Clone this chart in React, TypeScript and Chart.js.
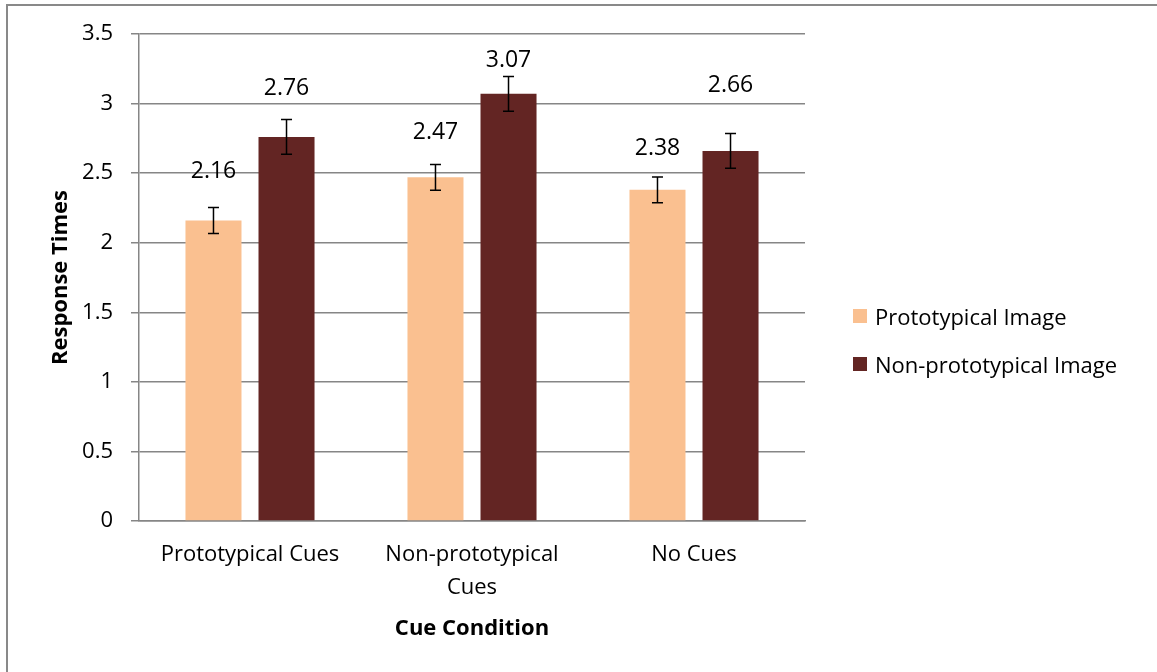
import React, { useEffect, useRef } from "react";
import { Chart, registerables } from "chart.js";

Chart.register(...registerables);

const categories: (string | string[])[] = ["Prototypical Cues", ["Non-prototypical", "Cues"], "No Cues"];
const seriesNames = ["Prototypical Image", "Non-prototypical Image"];
const protoValues = [2.16, 2.47, 2.38];
const nonProtoValues = [2.76, 3.07, 2.66];
const protoErrors = [0.093, 0.093, 0.093];
const nonProtoErrors = [0.125, 0.125, 0.125];
// vertical anchor of each value label, in axis units
const protoLabelAt = [2.51, 2.79, 2.68];
const nonProtoLabelAt = [3.11, 3.31, 3.13];
const yTicks = [0, 0.5, 1, 1.5, 2, 2.5, 3, 3.5];

const colors = ["#FAC090", "#632523"];
const FONT = "'Open Sans', 'Noto Sans', sans-serif";
const FS = 22;

const errorBarPlugin = {
  id: "errorBars",
  afterDatasetsDraw(chart: any) {
    const ctx = chart.ctx;
    const y = chart.scales.y;
    const errs = [protoErrors, nonProtoErrors];
    const vals = [protoValues, nonProtoValues];
    const labs = [protoLabelAt, nonProtoLabelAt];
    ctx.save();
    chart.data.datasets.forEach((_: any, di: number) => {
      const meta = chart.getDatasetMeta(di);
      meta.data.forEach((bar: any, i: number) => {
        const x = bar.x;
        const top = y.getPixelForValue(vals[di][i] + errs[di][i]);
        const bot = y.getPixelForValue(vals[di][i] - errs[di][i]);
        ctx.strokeStyle = "#000";
        ctx.lineWidth = 1.5;
        ctx.beginPath();
        ctx.moveTo(x, top);
        ctx.lineTo(x, bot);
        ctx.moveTo(x - 5.5, top);
        ctx.lineTo(x + 5.5, top);
        ctx.moveTo(x - 5.5, bot);
        ctx.lineTo(x + 5.5, bot);
        ctx.stroke();
        ctx.fillStyle = "#000";
        ctx.font = `${FS + 1}px ${FONT}`;
        ctx.textAlign = "center";
        ctx.textBaseline = "middle";
        ctx.fillText(vals[di][i].toFixed(2), x, y.getPixelForValue(labs[di][i]));
      });
    });
    ctx.restore();
  },
};

export default function App() {
  const ref = useRef<HTMLCanvasElement>(null);
  useEffect(() => {
    const chart = new Chart(ref.current!, {
      type: "bar",
      data: {
        labels: categories as any,
        datasets: [
          { label: seriesNames[0], data: protoValues, backgroundColor: colors[0] },
          { label: seriesNames[1], data: nonProtoValues, backgroundColor: colors[1] },
        ],
      },
      options: {
        animation: false,
        responsive: false,
        devicePixelRatio: 1,
        layout: { padding: { left: 44, right: 352, top: 34, bottom: 30 } },
        datasets: { bar: { categoryPercentage: 0.658, barPercentage: 0.767 } },
        plugins: { legend: { display: false }, tooltip: { enabled: false } },
        scales: {
          x: {
            grid: { display: false, drawTicks: false },
            border: { color: "#868686", width: 1.5 },
            ticks: { color: "#000", font: { family: FONT, size: FS, lineHeight: 1.5 }, padding: 17, maxRotation: 0, autoSkip: false },
            title: { display: true, text: "Cue Condition", color: "#000", font: { family: FONT, size: FS, weight: "bold" }, padding: { top: 0, bottom: 0 } },
            afterFit: (s: any) => { s.height = 121; },
          },
          y: {
            min: 0,
            max: 3.5,
            afterBuildTicks: (s: any) => { s.ticks = yTicks.map((v) => ({ value: v })); },
            grid: { color: "#868686", lineWidth: 1.5, tickLength: 8 },
            border: { color: "#868686", width: 1.5 },
            ticks: { color: "#000", font: { family: FONT, size: FS }, padding: 18, callback: (v: any) => String(v) },
            title: { display: true, text: "Response Times", color: "#000", font: { family: FONT, size: FS, weight: "bold" } },
            afterFit: (s: any) => { s.width = 95; },
          },
        },
      },
      plugins: [errorBarPlugin],
    });
    return () => chart.destroy();
  }, []);

  return (
    <div style={{ position: "fixed", left: 0, top: 0, width: 1157, height: 672, overflow: "hidden", background: "#fff" }}>
      <div style={{ position: "absolute", left: 6, top: 4, width: 1300, height: 800, border: "2px solid #898989", boxSizing: "border-box" }} />
      <canvas ref={ref} width={1157} height={672} style={{ position: "absolute", left: 0, top: 0 }} />
      <div style={{ position: "absolute", left: 853, top: 300, fontFamily: FONT, fontSize: FS, color: "#000" }}>
        {seriesNames.map((n, i) => (
          <div key={n} style={{ display: "flex", alignItems: "center", height: 32, marginBottom: i === 0 ? 16 : 0 }}>
            <span style={{ display: "inline-block", width: 14, height: 14, background: colors[i], marginRight: 8 }} />
            <span>{n}</span>
          </div>
        ))}
      </div>
    </div>
  );
}
